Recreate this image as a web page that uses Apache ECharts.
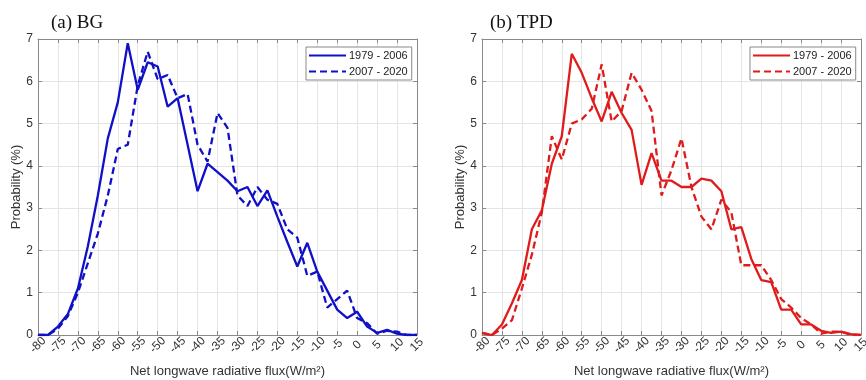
<!DOCTYPE html>
<html>
<head>
<meta charset="utf-8">
<script src="https://cdn.jsdelivr.net/npm/echarts@6/dist/echarts.min.js"></script>
<style>html,body{margin:0;padding:0;background:#fff;}#c{width:866px;height:380px;}</style>
</head>
<body>
<div id="c"></div>
<script>
const xs = [-80,-77.5,-75,-72.5,-70,-67.5,-65,-62.5,-60,-57.5,-55,-52.5,-50,-47.5,-45,-42.5,-40,-37.5,-35,-32.5,-30,-27.5,-25,-22.5,-20,-17.5,-15,-12.5,-10,-7.5,-5,-2.5,0,2.5,5,7.5,10,12.5,15];
const bgEarly = [0,0,0.2,0.5,1.1,2.1,3.3,4.65,5.5,6.9,5.8,6.45,6.35,5.4,5.6,4.5,3.4,4.05,3.85,3.65,3.4,3.5,3.05,3.42,2.8,2.2,1.62,2.18,1.5,1.05,0.6,0.4,0.55,0.2,0.05,0.12,0.03,0,0];
const bgLate = [0,0,0.15,0.45,1.0,1.7,2.4,3.3,4.4,4.5,5.9,6.7,6.05,6.15,5.6,5.7,4.5,4.1,5.25,4.9,3.3,3.05,3.5,3.2,3.1,2.5,2.3,1.4,1.5,0.65,0.85,1.05,0.4,0.28,0.03,0.1,0.08,0,0];
const tpdEarly = [0.05,0,0.25,0.75,1.3,2.5,2.95,4.05,4.7,6.65,6.2,5.6,5.05,5.75,5.25,4.85,3.55,4.3,3.65,3.65,3.5,3.5,3.7,3.65,3.4,2.5,2.55,1.8,1.3,1.25,0.6,0.6,0.25,0.25,0.1,0.05,0.08,0.02,0];
const tpdLate = [0.05,0,0.15,0.35,1.1,1.9,2.9,4.7,4.15,5.0,5.1,5.35,6.4,5.05,5.3,6.2,5.8,5.3,3.3,3.9,4.65,3.5,2.8,2.5,3.2,2.9,1.65,1.65,1.65,1.3,0.85,0.65,0.4,0.25,0.03,0.08,0.08,0,0];
const periodLabels = ['1979 - 2006', '2007 - 2020'];
const panelTitles = ['(a) BG', '(b) TPD'];
const xName = 'Net longwave radiative flux(W/m²)';
const yName = 'Probability (%)';

const pairs = v => xs.map((x, i) => [x, v[i]]);
const chart = echarts.init(document.getElementById('c'), null, {renderer: 'canvas'});

const axisCol = '#8a8a8a';
const gridCol = '#e4e4e4';
const textCol = '#333';
const grids = [
  {left: 38, right: 449, top: 39, bottom: 45, containLabel: false, outerBoundsMode: 'none'},
  {left: 482, right: 5, top: 39, bottom: 45, containLabel: false, outerBoundsMode: 'none'}
];
const xAxes = [], yAxes = [];
grids.forEach((g, gi) => {
  xAxes.push({
    type: 'value', gridIndex: gi, min: -80, max: 15, interval: 5, position: 'bottom',
    name: xName, nameLocation: 'middle', nameGap: 30, nameMoveOverlap: false,
    nameTextStyle: {fontFamily: 'Liberation Sans', fontSize: 13, color: textCol},
    axisLine: {show: true, onZero: false, lineStyle: {color: axisCol, width: 1}},
    axisTick: {show: true, inside: true, length: 4, lineStyle: {color: axisCol}},
    axisLabel: {rotate: 45, align: 'center', verticalAlign: 'middle', margin: 10,
      fontFamily: 'Liberation Sans', fontSize: 12, color: textCol},
    splitLine: {show: true, lineStyle: {color: gridCol, width: 1}}
  });
  xAxes.push({
    type: 'value', gridIndex: gi, min: -80, max: 15, interval: 5, position: 'top',
    axisLine: {show: true, onZero: false, lineStyle: {color: axisCol, width: 1}},
    axisTick: {show: true, inside: true, length: 4, lineStyle: {color: axisCol}},
    axisLabel: {show: false}, splitLine: {show: false}
  });
  yAxes.push({
    type: 'value', gridIndex: gi, min: 0, max: 7, interval: 1, position: 'left',
    name: yName, nameLocation: 'middle', nameGap: 15, nameMoveOverlap: false,
    nameTextStyle: {fontFamily: 'Liberation Sans', fontSize: 13, color: textCol},
    axisLine: {show: true, onZero: false, lineStyle: {color: axisCol, width: 1}},
    axisTick: {show: true, inside: true, length: 4, lineStyle: {color: axisCol}},
    axisLabel: {margin: 5, fontFamily: 'Liberation Sans', fontSize: 12, color: textCol},
    splitLine: {show: true, lineStyle: {color: gridCol, width: 1}}
  });
  yAxes.push({
    type: 'value', gridIndex: gi, min: 0, max: 7, interval: 1, position: 'right',
    axisLine: {show: true, onZero: false, lineStyle: {color: axisCol, width: 1}},
    axisTick: {show: true, inside: true, length: 4, lineStyle: {color: axisCol}},
    axisLabel: {show: false}, splitLine: {show: false}
  });
});

const blue = '#1010c8', red = '#e01b1b';
const names = {a1: periodLabels[0], a2: periodLabels[1], b1: periodLabels[0], b2: periodLabels[1]};
const mk = (name, data, color, dashed, gi) => ({
  name, type: 'line', data: pairs(data), xAxisIndex: gi * 2, yAxisIndex: gi * 2,
  symbol: 'none', showSymbol: false, smooth: false, animation: false,
  lineStyle: {color, width: 2.3, type: dashed ? [7, 4] : 'solid'},
  itemStyle: {color}
});
const legendBase = {
  orient: 'vertical', top: 47, itemWidth: 37, itemHeight: 10, itemGap: 5,
  padding: [3, 4, 3, 2], borderColor: '#8a8a8a', borderWidth: 1, backgroundColor: '#fff',
  itemStyle: {opacity: 0},
  textStyle: {fontFamily: 'Liberation Sans', fontSize: 11, color: '#222', padding: [0, 0, 0, -2]},
  formatter: n => names[n], selectedMode: false
};

chart.setOption({
  animation: false,
  backgroundColor: '#fff',
  title: [
    {text: panelTitles[0], left: 46, top: 9, textStyle: {fontFamily: 'Liberation Serif', fontSize: 19, fontWeight: 'normal', color: '#111'}},
    {text: panelTitles[1], left: 485, top: 9, textStyle: {fontFamily: 'Liberation Serif', fontSize: 19, fontWeight: 'normal', color: '#111'}}
  ],
  grid: grids,
  xAxis: xAxes,
  yAxis: yAxes,
  legend: [
    Object.assign({}, legendBase, {left: 306, data: ['a1', 'a2']}),
    Object.assign({}, legendBase, {left: 750, data: ['b1', 'b2']})
  ],
  series: [
    mk('a1', bgEarly, blue, false, 0),
    mk('a2', bgLate, blue, true, 0),
    mk('b1', tpdEarly, red, false, 1),
    mk('b2', tpdLate, red, true, 1)
  ]
});
</script>
</body>
</html>
